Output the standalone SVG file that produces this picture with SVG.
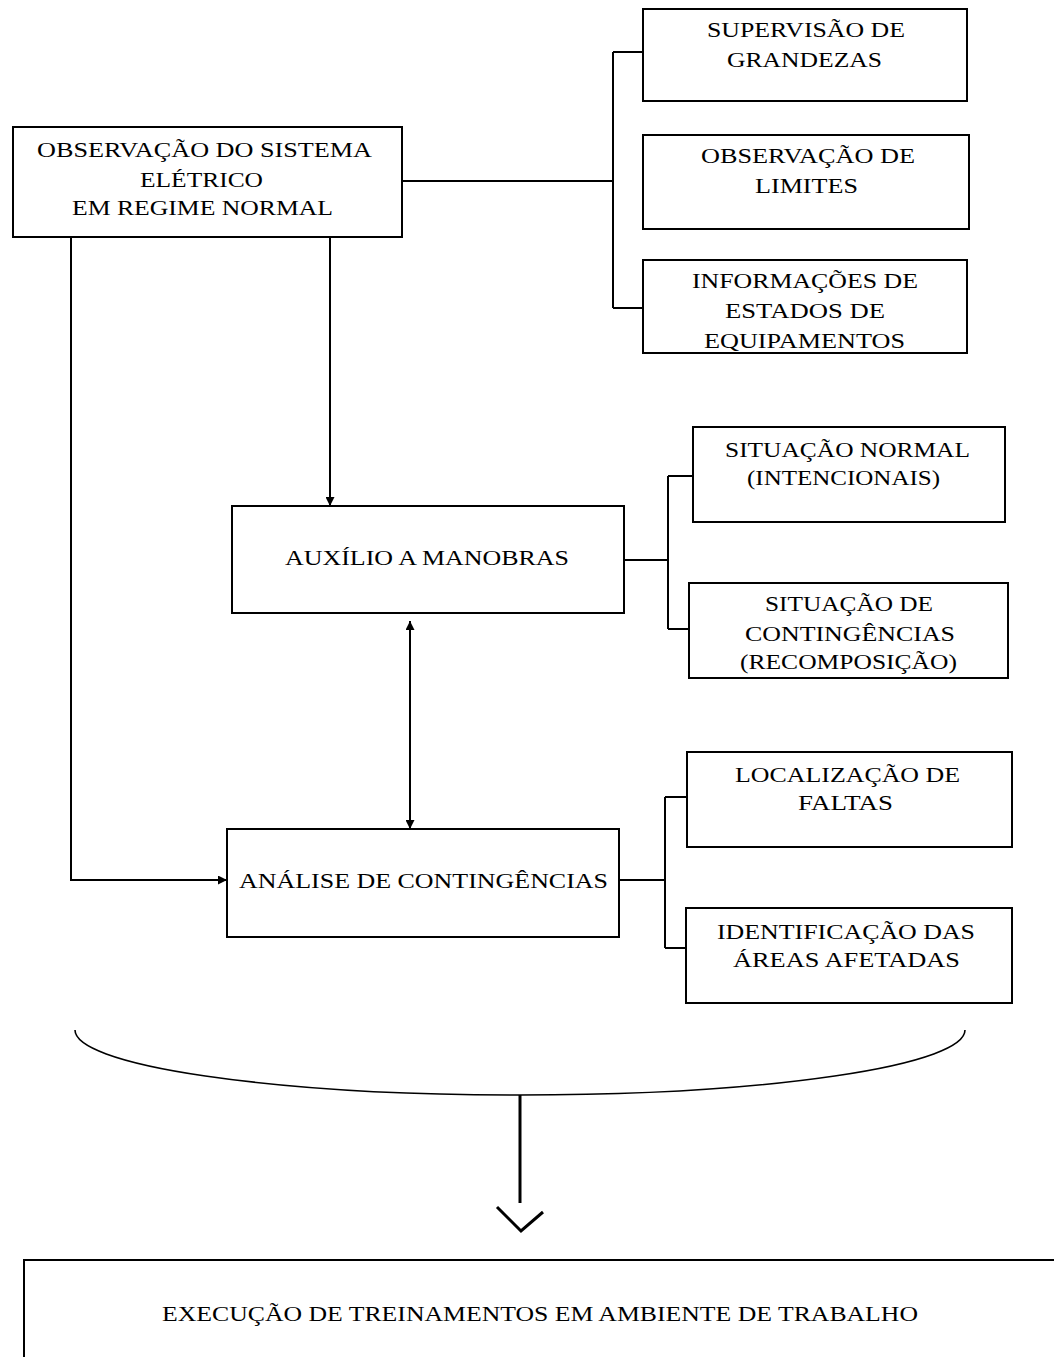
<svg xmlns="http://www.w3.org/2000/svg" width="1054" height="1357" viewBox="0 0 1054 1357">
<style>
.box{fill:#fff;stroke:#000;stroke-width:2}
.t{font-family:"Liberation Serif","Times New Roman",serif;font-size:21px;fill:#000;text-anchor:middle}
.ln{fill:none;stroke:#000;stroke-width:2}
</style>
<defs>
<marker id="ah" viewBox="0 0 10 10" refX="10" refY="5" markerWidth="10" markerHeight="9" markerUnits="userSpaceOnUse" orient="auto-start-reverse">
<path d="M0,0 L10,5 L0,10 z" fill="#000"/>
</marker>
</defs>
<rect width="1054" height="1357" fill="#fff"/>
<g id="connectors">
<path class="ln" d="M402,181 H613 M613,52 V308 M613,52 H643 M613,308 H643"/>
<path class="ln" d="M71,237 V880 H227" marker-end="url(#ah)"/>
<path class="ln" d="M330,237 V506" marker-end="url(#ah)"/>
<path class="ln" d="M624,560 H668 M668,476 V629 M668,476 H693 M668,629 H689"/>
<path class="ln" d="M410,621 V829" marker-start="url(#ah)" marker-end="url(#ah)"/>
<path class="ln" d="M619,880 H665 M665,797 V948 M665,797 H687 M665,948 H686"/>
<path fill="none" stroke="#000" stroke-width="1.6" d="M75,1030 A445,65 0 0 0 520,1095 A445,65 0 0 0 965,1030"/>
<path fill="none" stroke="#000" stroke-width="3" d="M520,1095 V1203"/>
<path fill="none" stroke="#000" stroke-width="3" d="M497,1207 L521,1231 L543,1212"/>
</g>
<g id="n-observacao">
<rect class="box" x="13" y="127" width="389" height="110"/>
<text class="t" x="204.5" y="157" textLength="335" lengthAdjust="spacingAndGlyphs">OBSERVAÇÃO DO SISTEMA</text>
<text class="t" x="201.5" y="187" textLength="123" lengthAdjust="spacingAndGlyphs">ELÉTRICO</text>
<text class="t" x="202.5" y="215" textLength="261" lengthAdjust="spacingAndGlyphs">EM REGIME NORMAL</text>
</g>
<g id="n-supervisao">
<rect class="box" x="643" y="9" width="324" height="92"/>
<text class="t" x="806" y="37" textLength="198" lengthAdjust="spacingAndGlyphs">SUPERVISÃO DE</text>
<text class="t" x="804.5" y="67" textLength="155" lengthAdjust="spacingAndGlyphs">GRANDEZAS</text>
</g>
<g id="n-limites">
<rect class="box" x="643" y="135" width="326" height="94"/>
<text class="t" x="808" y="163" textLength="214" lengthAdjust="spacingAndGlyphs">OBSERVAÇÃO DE</text>
<text class="t" x="806.5" y="193" textLength="103" lengthAdjust="spacingAndGlyphs">LIMITES</text>
</g>
<g id="n-informacoes">
<rect class="box" x="643" y="260" width="324" height="93"/>
<text class="t" x="805" y="288" textLength="226" lengthAdjust="spacingAndGlyphs">INFORMAÇÕES DE</text>
<text class="t" x="805" y="318" textLength="160" lengthAdjust="spacingAndGlyphs">ESTADOS DE</text>
<text class="t" x="804.5" y="348" textLength="201" lengthAdjust="spacingAndGlyphs">EQUIPAMENTOS</text>
</g>
<g id="n-auxilio">
<rect class="box" x="232" y="506" width="392" height="107"/>
<text class="t" x="427" y="565" textLength="284" lengthAdjust="spacingAndGlyphs">AUXÍLIO A MANOBRAS</text>
</g>
<g id="n-situacao-normal">
<rect class="box" x="693" y="427" width="312" height="95"/>
<text class="t" x="847.5" y="457" textLength="245" lengthAdjust="spacingAndGlyphs">SITUAÇÃO NORMAL</text>
<text class="t" x="843.5" y="485" textLength="193" lengthAdjust="spacingAndGlyphs">(INTENCIONAIS)</text>
</g>
<g id="n-situacao-contingencias">
<rect class="box" x="689" y="583" width="319" height="95"/>
<text class="t" x="849" y="611" textLength="168" lengthAdjust="spacingAndGlyphs">SITUAÇÃO DE</text>
<text class="t" x="850" y="641" textLength="210" lengthAdjust="spacingAndGlyphs">CONTINGÊNCIAS</text>
<text class="t" x="848.5" y="669" textLength="217" lengthAdjust="spacingAndGlyphs">(RECOMPOSIÇÃO)</text>
</g>
<g id="n-analise">
<rect class="box" x="227" y="829" width="392" height="108"/>
<text class="t" x="423.5" y="888" textLength="369" lengthAdjust="spacingAndGlyphs">ANÁLISE DE CONTINGÊNCIAS</text>
</g>
<g id="n-localizacao">
<rect class="box" x="687" y="752" width="325" height="95"/>
<text class="t" x="847.5" y="782" textLength="225" lengthAdjust="spacingAndGlyphs">LOCALIZAÇÃO DE</text>
<text class="t" x="845.5" y="810" textLength="95" lengthAdjust="spacingAndGlyphs">FALTAS</text>
</g>
<g id="n-identificacao">
<rect class="box" x="686" y="908" width="326" height="95"/>
<text class="t" x="846" y="939" textLength="258" lengthAdjust="spacingAndGlyphs">IDENTIFICAÇÃO DAS</text>
<text class="t" x="846.5" y="967" textLength="227" lengthAdjust="spacingAndGlyphs">ÁREAS AFETADAS</text>
</g>
<g id="n-execucao">
<rect class="box" x="24" y="1260" width="1100" height="200"/>
<text class="t" x="540" y="1321" textLength="756" lengthAdjust="spacingAndGlyphs">EXECUÇÃO DE TREINAMENTOS EM AMBIENTE DE TRABALHO</text>
</g>
</svg>
